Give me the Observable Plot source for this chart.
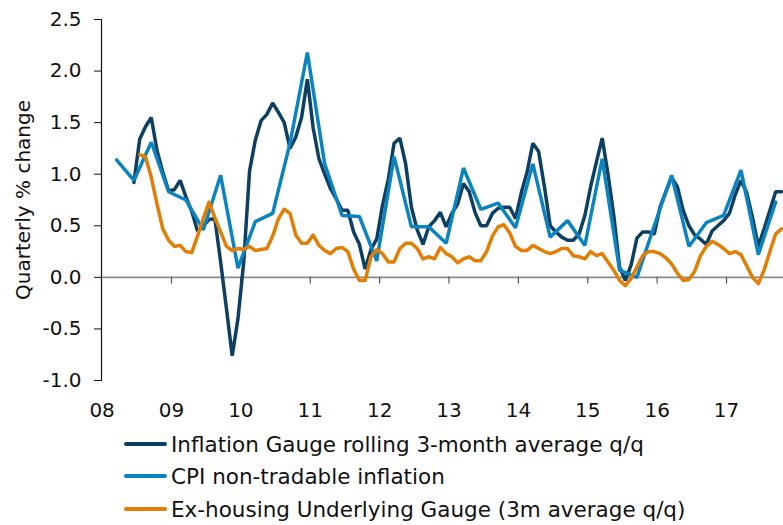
<!DOCTYPE html>
<html>
<head>
<meta charset="utf-8">
<script src="https://cdn.jsdelivr.net/npm/d3@7"></script>
<script src="https://cdn.jsdelivr.net/npm/@observablehq/plot@0.6"></script>
<style>
  html, body { margin: 0; padding: 0; background: #fff; }
  #wrap { position: relative; width: 783px; height: 525px; font-family: "DejaVu Sans", Verdana, sans-serif; }
  #legend { position: absolute; left: 0; top: 425px; width: 783px; height: 100px; }
  .row { position: absolute; left: 124px; height: 30px; display: flex; align-items: center; font-size: 21.5px; color: #111; white-space: nowrap; }
  .sw { width: 43px; height: 3.5px; margin-right: 4px; border-radius: 2px; }
</style>
</head>
<body>
<div id="wrap"><div id="chart"></div><div id="legend"></div></div>
<script>
// ---- Data ----
const seriesNames = [
  "Inflation Gauge rolling 3-month average q/q",
  "CPI non-tradable inflation",
  "Ex-housing Underlying Gauge (3m average q/q)"
];
const seriesColors = ["#0c3f62", "#0a83be", "#e27d06"];

// Monthly, from June 2008
const gaugeStart = [2008, 6];
const gaugeValues = [
  0.92, 1.34, 1.46, 1.55, 1.23, 1.02, 0.84,
  0.85, 0.94, 0.78, 0.64, 0.45, 0.50, 0.56, 0.57, 0.15, -0.30, -0.76, -0.40,
  0.15, 1.03, 1.33, 1.52, 1.58, 1.69, 1.60, 1.50, 1.25, 1.36, 1.55, 1.92,
  1.45, 1.15, 1.00, 0.86, 0.76, 0.65, 0.65, 0.44, 0.32, 0.08, 0.27, 0.37,
  0.70, 0.95, 1.30, 1.35, 1.10, 0.68, 0.46, 0.32, 0.49, 0.55, 0.63, 0.49,
  0.62, 0.71, 0.91, 0.83, 0.63, 0.50, 0.50, 0.62, 0.67, 0.68, 0.68, 0.57,
  0.82, 1.02, 1.30, 1.22, 0.88, 0.50, 0.44, 0.39, 0.36, 0.36, 0.42, 0.60,
  0.88, 1.12, 1.35, 1.00, 0.60, 0.10, -0.03, 0.12, 0.38, 0.44, 0.44, 0.42,
  0.68, 0.83, 0.97, 0.88, 0.65, 0.50, 0.41, 0.37, 0.32, 0.45, 0.50, 0.55,
  0.62, 0.80, 0.94, 0.82, 0.58, 0.30, 0.47, 0.65, 0.83, 0.83
];

// Quarterly, from March 2008 (quarter-end months)
const cpiStart = [2008, 3];
const cpiValues = [
  1.14, 0.94, 1.31, 0.83,
  0.75, 0.46, 0.99, 0.09,
  0.54, 0.62, 1.30, 2.18,
  1.10, 0.60, 0.59, 0.16,
  1.17, 0.49, 0.49, 0.33,
  1.06, 0.66, 0.72, 0.48,
  1.10, 0.39, 0.55, 0.31,
  1.15, 0.07, 0.00, 0.50,
  0.99, 0.30, 0.53, 0.60,
  1.04, 0.22, 0.73
];

// Monthly, from July 2008
const exHousingStart = [2008, 7];
const exHousingValues = [
  1.19, 1.17, 0.97, 0.71, 0.47, 0.36,
  0.30, 0.31, 0.25, 0.24, 0.40, 0.57, 0.73, 0.58, 0.44, 0.30, 0.26, 0.28,
  0.27, 0.30, 0.26, 0.27, 0.28, 0.40, 0.57, 0.66, 0.62, 0.41, 0.33, 0.33,
  0.41, 0.31, 0.26, 0.23, 0.28, 0.29, 0.25, 0.08, -0.03, -0.03, 0.20, 0.27,
  0.23, 0.15, 0.15, 0.28, 0.33, 0.33, 0.28, 0.18, 0.20, 0.18, 0.29, 0.23,
  0.20, 0.14, 0.18, 0.20, 0.16, 0.16, 0.25, 0.40, 0.49, 0.51, 0.43, 0.30,
  0.26, 0.26, 0.31, 0.28, 0.25, 0.23, 0.25, 0.28, 0.28, 0.21, 0.20, 0.18,
  0.25, 0.21, 0.23, 0.15, 0.07, -0.03, -0.08, -0.01, 0.10, 0.21, 0.25, 0.25,
  0.23, 0.19, 0.13, 0.04, -0.03, -0.02, 0.06, 0.21, 0.30, 0.35, 0.32, 0.28,
  0.23, 0.25, 0.22, 0.11, 0.00, -0.06, 0.07, 0.25, 0.42, 0.47
];

const xTickYears = [2008, 2009, 2010, 2011, 2012, 2013, 2014, 2015, 2016, 2017];
const yTicks = [-1.0, -0.5, 0.0, 0.5, 1.0, 1.5, 2.0, 2.5];
const yLabel = "Quarterly % change";

// ---- Build tables (time as decimal year, mid-month) ----
function toRows(start, values, stepMonths) {
  return values.map((v, i) => {
    const m = (start[1] - 1) + i * stepMonths;
    return {t: start[0] + (m + 0.5) / 12, v};
  });
}
const gauge = toRows(gaugeStart, gaugeValues, 1);
const cpi = toRows(cpiStart, cpiValues, 3);
const exHousing = toRows(exHousingStart, exHousingValues, 1);

const font = "DejaVu Sans, Verdana, sans-serif";

const chart = Plot.plot({
  width: 783,
  height: 425,
  marginLeft: 101,
  marginRight: 0,
  marginTop: 19,
  marginBottom: 45,
  style: {fontFamily: font, fontSize: "20px", color: "#111", background: "#fff"},
  x: {type: "linear", domain: [2008, 2018], range: [101.6, 795.4]},
  y: {domain: [-1, 2.5]},
  marks: [
    Plot.ruleY([0], {stroke: "#8a8a8a", strokeWidth: 1.6}),
    Plot.ruleX(xTickYears.slice(1), {x: d => d, y1: 0, y2: -0.065, stroke: "#555", strokeWidth: 1.2}),
    Plot.frame({anchor: "left", stroke: "#111", strokeWidth: 1.2}),
    Plot.axisY({
      ticks: yTicks, tickFormat: d => d.toFixed(1), tickSize: 7, tickPadding: 13,
      fontSize: 20, stroke: "#111", label: null
    }),
    Plot.text([yLabel], {
      frameAnchor: "left", text: d => d, rotate: -90, dx: -78,
      fontSize: 20, fill: "#111", textAnchor: "middle"
    }),
    Plot.axisX({
      ticks: xTickYears, tickFormat: d => String(d % 100).padStart(2, "0"),
      tickSize: 0, tickPadding: 22, fontSize: 20, label: null
    }),
    Plot.lineY(gauge, {x: "t", y: "v", stroke: seriesColors[0], strokeWidth: 3.5, strokeLinejoin: "miter"}),
    Plot.lineY(cpi, {x: "t", y: "v", stroke: seriesColors[1], strokeWidth: 3.5, strokeLinejoin: "miter"}),
    Plot.lineY(exHousing, {x: "t", y: "v", stroke: seriesColors[2], strokeWidth: 3.5, strokeLinejoin: "round"})
  ]
});
document.getElementById("chart").appendChild(chart);

// ---- Legend ----
const legend = document.getElementById("legend");
const rowCenters = [19, 51, 84];
seriesNames.forEach((name, i) => {
  const row = document.createElement("div");
  row.className = "row";
  row.style.top = (rowCenters[i] - 15) + "px";
  const sw = document.createElement("div");
  sw.className = "sw";
  sw.style.background = seriesColors[i];
  const tx = document.createElement("span");
  tx.textContent = name;
  row.appendChild(sw);
  row.appendChild(tx);
  legend.appendChild(row);
});
</script>
</body>
</html>
